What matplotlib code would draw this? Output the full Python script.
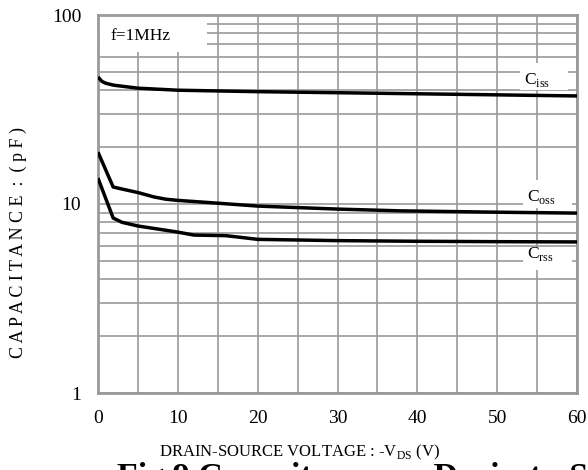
import numpy as np
import matplotlib.pyplot as plt
from matplotlib.ticker import FixedLocator, NullFormatter

plt.rcParams['font.family'] = ['Liberation Serif', 'DejaVu Serif']
plt.rcParams['mathtext.fontset'] = 'custom'
plt.rcParams['mathtext.rm'] = 'Liberation Serif'

# capacitance vs drain-source voltage, f = 1 MHz
v_iss = [0, 0.5, 1, 2, 3, 5, 10, 20, 30, 40, 50, 60]
c_iss = [47, 44.5, 43.5, 42.5, 42, 41, 40, 39.3, 38.8, 38.3, 37.8, 37.3]

v_oss = [0, 1.9, 3, 5, 7, 8.5, 10, 15, 20, 30, 37.8, 50, 60]
c_oss = [18.8, 12.3, 12.0, 11.5, 10.9, 10.6, 10.45, 10.1, 9.75, 9.4, 9.2, 9.05, 8.95]

v_rss = [0, 1.9, 3, 5, 10, 12, 16, 18, 20, 30, 40, 50, 60]
c_rss = [13.7, 8.43, 8.0, 7.65, 7.1, 6.85, 6.8, 6.65, 6.5, 6.4, 6.35, 6.32, 6.3]

x_ticks = [0, 10, 20, 30, 40, 50, 60]
y_ticks = [1, 10, 100]

W, H = 588, 470
fig = plt.figure(figsize=(W / 100, H / 100), dpi=100)
ax = fig.add_axes([98 / W, 1 - 393 / H, 479 / W, 378 / H])

ax.set_yscale('log')
ax.set_xlim(0, 60)
ax.set_ylim(1, 100)

grid_col = '#9a9a9a'
ax.set_xticks(x_ticks)
ax.set_xticks(np.arange(0, 61, 5), minor=True)
ax.set_yticks(y_ticks)
ax.set_yticklabels(['1', '10', '100'])
minor_y = [m * d for d in (1, 10) for m in range(2, 10)]
ax.yaxis.set_minor_locator(FixedLocator(minor_y))
ax.yaxis.set_minor_formatter(NullFormatter())
ax.grid(True, which='both', color=grid_col, linewidth=1.2, zorder=1)
ax.tick_params(which='both', length=0, labelsize=14, pad=12)
for s in ax.spines.values():
    s.set_color(grid_col)
    s.set_linewidth(2)

# curves
for v, c in [(v_iss, c_iss), (v_oss, c_oss), (v_rss, c_rss)]:
    ax.plot(v, c, color='black', linewidth=2.5, solid_capstyle='butt', zorder=3)


# white boxes that blank the grid behind the labels
def box_label(x0, y0, x1, y1, txt, tx, ty, size):
    rect = plt.Rectangle((x0 / W, 1 - y1 / H), (x1 - x0) / W, (y1 - y0) / H,
                         transform=fig.transFigure, facecolor='white',
                         edgecolor='none', zorder=2, clip_on=False)
    ax.add_artist(rect)
    fig.text(tx / W, 1 - ty / H, txt, fontsize=size, ha='left', va='center', zorder=4)


box_label(100, 17, 207, 52, 'f=1MHz', 111, 36, 12.5)
box_label(520, 63, 568, 90, r'C$_{\mathrm{iss}}$', 524, 80, 12.5)
box_label(523, 180, 572, 208, r'C$_{\mathrm{oss}}$', 527, 197, 12.5)
box_label(523, 247, 572, 270, r'C$_{\mathrm{rss}}$', 527, 254, 12.5)

fig.text(18 / W, 1 - 243 / H, 'C A P A C I T A N C E  :  ( p F )', fontsize=13,
         rotation=90, ha='center', va='center')
fig.text(300 / W, 1 - 452 / H, r'DRAIN-SOURCE VOLTAGE : -V$_{\mathrm{DS}}$ (V)',
         fontsize=12, ha='center', va='center')
fig.text(117 / W, 1 - 462 / H, 'Fig.9 Capacitance vs. Drain-to-Source Voltage',
         fontsize=24.5, fontweight='bold', ha='left', va='top')

fig.savefig('out.png', dpi=100)
